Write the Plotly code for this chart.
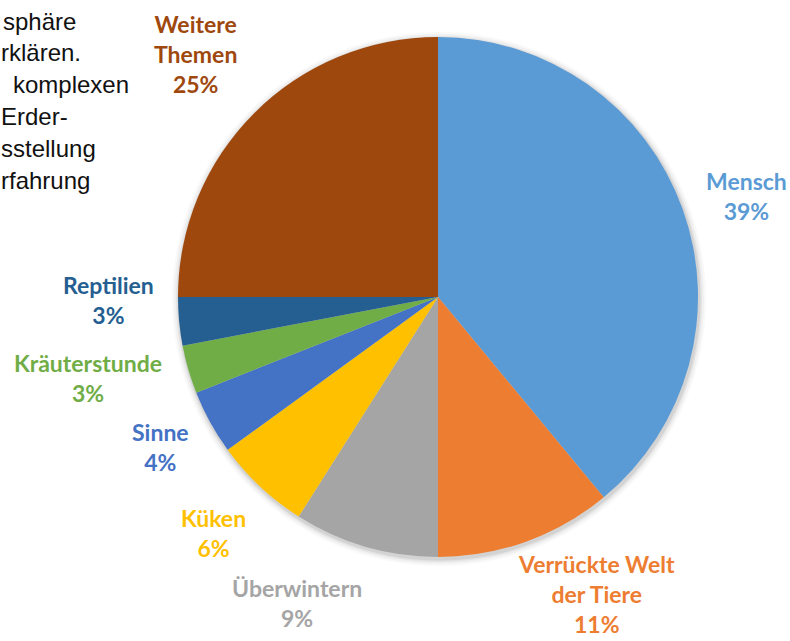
import plotly.graph_objects as go

W, H = 790, 641

themen = ["Mensch", "Verrückte Welt der Tiere", "Überwintern", "Küken", "Sinne",
          "Kräuterstunde", "Reptilien", "Weitere Themen"]
anteile = [39, 11, 9, 6, 4, 3, 3, 25]
farben = ["#5B9BD5", "#ED7D31", "#A5A5A5", "#FFC000", "#4472C4",
          "#70AD47", "#255E91", "#9E480E"]
label_zeilen = [["Mensch"], ["Verrückte Welt", "der Tiere"], ["Überwintern"], ["Küken"],
                ["Sinne"], ["Kräuterstunde"], ["Reptilien"], ["Weitere", "Themen"]]
# label block centres in pixels (x, y)
label_pos = [(745, 196), (596, 594), (297, 603), (213, 533), (160, 447),
             (88, 378), (108, 300), (195, 54)]

# text fragments of the page behind the chart (cut at left edge)
hintergrund = ["sphäre", "rklären.", "komplexen", "Erder-", "sstellung", "rfahrung"]
hintergrund_x = [1, -1, 11, -1, -1, -1]

cx, cy, r = 438, 297, 260


def dom(rad, dx=0, dy=0):
    return dict(x=[(cx + dx - rad) / W, (cx + dx + rad) / W],
                y=[(H - cy - dy - rad) / H, (H - cy - dy + rad) / H])


fig = go.Figure()

# soft shadow behind the pie
for extra, alpha in [(7, 0.025), (5, 0.035), (3, 0.05), (1.5, 0.07)]:
    fig.add_trace(go.Pie(
        values=[1], marker=dict(colors=[f"rgba(0,0,0,{alpha})"], line=dict(width=0)),
        textinfo="none", hoverinfo="skip", showlegend=False, sort=False,
        domain=dom(r + extra, 1, 2),
    ))

fig.add_trace(go.Pie(
    labels=themen,
    values=anteile,
    sort=False,
    direction="clockwise",
    rotation=0,
    marker=dict(colors=farben, line=dict(width=0)),
    textinfo="none",
    hoverinfo="label+percent",
    showlegend=False,
    domain=dom(r),
))

total = sum(anteile)
for zeilen, wert, farbe, (px_, py_) in zip(label_zeilen, anteile, farben, label_pos):
    txt = "<br>".join(zeilen + [f"{round(100 * wert / total)}%"])
    if px_ > 700:
        xa, xpos = "right", 789 / W
    else:
        xa, xpos = "center", px_ / W
    fig.add_annotation(
        x=xpos, y=1 - py_ / H, xref="paper", yref="paper",
        text=f"<b>{txt}</b>", showarrow=False, align="center",
        xanchor=xa, yanchor="middle",
        font=dict(family="Lato", size=23, color=farbe),
    )

for i, (t, x0) in enumerate(zip(hintergrund, hintergrund_x)):
    fig.add_annotation(
        x=x0 / W, y=1 - (21 + 32 * i) / H, xref="paper", yref="paper",
        text=t, showarrow=False, xanchor="left", yanchor="middle",
        font=dict(family="Liberation Sans", size=24, color="#111111"),
    )

fig.update_layout(
    width=W, height=H,
    margin=dict(l=0, r=0, t=0, b=0),
    paper_bgcolor="white", plot_bgcolor="white",
)

fig.write_html("out.html", config={"displayModeBar": False},
               post_script="document.body.style.margin='0';")
